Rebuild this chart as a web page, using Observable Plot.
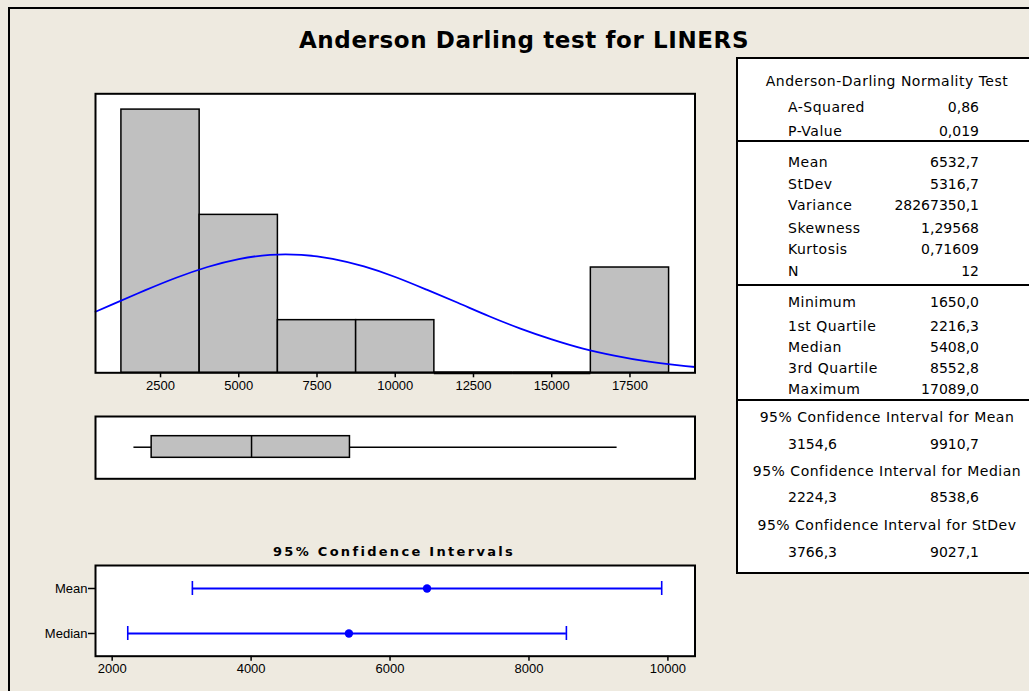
<!DOCTYPE html>
<html><head><meta charset="utf-8">
<script src="https://cdn.jsdelivr.net/npm/d3@7"></script>
<script src="https://cdn.jsdelivr.net/npm/@observablehq/plot@0.6"></script>
<style>
html,body{margin:0;padding:0;overflow:hidden;background:#EEEAE0;}
#root{position:relative;width:1029px;height:691px;background:#EEEAE0;overflow:hidden;}
.abs{position:absolute;white-space:nowrap;}
.t{font-family:"DejaVu Sans",sans-serif;font-size:14px;color:#000;line-height:17px;letter-spacing:0.5px;}
.n{font-family:"DejaVu Sans",sans-serif;font-size:14px;color:#000;line-height:17px;}
</style></head><body><div id="root"></div>
<script>
// ---------- data ----------
const chartTitle = "Anderson Darling test for LINERS";
const binStart = [1250, 3750, 6250, 8750, 11250, 13750, 16250];
const binEnd   = [3750, 6250, 8750, 11250, 13750, 16250, 18750];
const binCounts = [5, 3, 1, 1, 0, 0, 2];
const histTicks = [2500, 5000, 7500, 10000, 12500, 15000, 17500];
// fitted normal curve (count scale)
const curveX = [422, 1000, 2000, 3000, 4000, 5000, 6000, 7000, 8000, 9000, 10000, 11000, 12000, 13000, 14000, 15000, 16000, 17000, 18000, 19000, 19578];
const curveY = [1.16, 1.31, 1.565, 1.805, 2.01, 2.16, 2.24, 2.24, 2.165, 2.02, 1.82, 1.58, 1.33, 1.075, 0.84, 0.635, 0.46, 0.325, 0.22, 0.145, 0.11];
const adLabels = ["A-Squared", "P-Value"];
const adValues = ["0,86", "0,019"];
const momentLabels = ["Mean", "StDev", "Variance", "Skewness", "Kurtosis", "N"];
const momentValues = ["6532,7", "5316,7", "28267350,1", "1,29568", "0,71609", "12"];
const summaryLabels = ["Minimum", "1st Quartile", "Median", "3rd Quartile", "Maximum"];
const summaryValues = [1650.0, 2216.3, 5408.0, 8552.8, 17089.0];
const ciLabels = ["Mean", "Median"];
const ciCenter = [6532.7, 5408.0];
const ciLower = [3154.6, 2224.3];
const ciUpper = [9910.7, 8538.6];
const ciTicks = [2000, 4000, 6000, 8000, 10000];
const stdevCI = [3766.3, 9027.1];
const ciTitle = "95% Confidence Intervals";

// ---------- helpers ----------
const root = document.getElementById("root");
const fmt = (v, d) => v.toFixed(d).replace(".", ",");
function addText(txt, x, y, align, cls, extra) {
  const d = document.createElement("div");
  d.className = "abs " + (cls || "t");
  d.textContent = txt;
  d.style.left = x + "px";
  d.style.top = y + "px";
  const tx = align === "center" ? "-50%" : align === "right" ? "-100%" : "0";
  d.style.transform = `translate(${tx},-50%)`;
  if (extra) Object.assign(d.style, extra);
  root.appendChild(d);
  return d;
}
function place(svg, left, top) {
  svg.style.position = "absolute";
  svg.style.left = left + "px";
  svg.style.top = top + "px";
  svg.style.overflow = "visible";
  root.appendChild(svg);
}
const axisFont = {background: "transparent", fontFamily: "'Liberation Sans', Arial, sans-serif", fontSize: "13px", color: "black", overflow: "visible"};

// outer border
const ob = document.createElement("div");
ob.className = "abs";
Object.assign(ob.style, {left: "8px", top: "7px", width: "1100px", height: "800px", borderLeft: "2px solid #000", borderTop: "2px solid #000"});
root.appendChild(ob);

// title
addText(chartTitle, 524, 40, "center", "t", {fontWeight: "bold", fontSize: "23px", lineHeight: "28px", letterSpacing: "0.6px"});

// ---------- histogram ----------
const xDomain = [422, 19578];
const bins = binStart.map((s, i) => ({x1: s, x2: binEnd[i], count: binCounts[i]}));
const curve = curveX.map((x, i) => ({x, y: curveY[i]}));
const hist = Plot.plot({
  width: 720, height: 400,
  marginLeft: 95, marginRight: 25.5, marginTop: 93.3, marginBottom: 27.7,
  x: {domain: xDomain},
  y: {domain: [0, 5.3], axis: null},
  style: axisFont,
  marks: [
    Plot.frame({fill: "white"}),
    Plot.rect(bins, {x1: "x1", x2: "x2", y1: 0, y2: "count", fill: "#C0C0C0", stroke: "black", strokeWidth: 1.5}),
    Plot.ruleY(bins.filter(b => b.count === 0), {x1: "x1", x2: "x2", y: "count", stroke: "black", strokeWidth: 3}),
    Plot.line(curve, {x: "x", y: "y", stroke: "#0000FF", strokeWidth: 1.8, curve: "natural"}),
    Plot.frame({stroke: "black", strokeWidth: 2}),
    Plot.axisX({ticks: histTicks, tickSize: 5, tickPadding: 3, strokeWidth: 1.5, tickFormat: d => String(d)})
  ]
});
place(hist, 0, 0);

// ---------- boxplot ----------
const whiskers = [{x1: summaryValues[0], x2: summaryValues[1]}, {x1: summaryValues[3], x2: summaryValues[4]}];
const boxes = [{x1: summaryValues[1], x2: summaryValues[3], m: summaryValues[2]}];
const box = Plot.plot({
  width: 720, height: 90,
  marginLeft: 95, marginRight: 25.5, marginTop: 16, marginBottom: 11.7,
  x: {domain: xDomain, axis: null},
  y: {domain: [0, 1], axis: null},
  style: axisFont,
  marks: [
    Plot.frame({fill: "white"}),
    Plot.ruleY(whiskers, {x1: "x1", x2: "x2", y: () => 0.507, stroke: "black", strokeWidth: 1.5}),
    Plot.rect(boxes, {x1: "x1", x2: "x2", y1: () => 0.337, y2: () => 0.684, fill: "#C0C0C0", stroke: "black", strokeWidth: 1.5}),
    Plot.ruleX(boxes, {x: "m", y1: () => 0.337, y2: () => 0.684, stroke: "black", strokeWidth: 1.5}),
    Plot.frame({stroke: "black", strokeWidth: 2})
  ]
});
place(box, 0, 400);

// ---------- confidence intervals ----------
addText(ciTitle, 394, 551, "center", "t", {fontWeight: "bold", fontSize: "13px", letterSpacing: "2.3px"});
const ciData = ciLabels.map((l, i) => ({label: l, c: ciCenter[i], lo: ciLower[i], hi: ciUpper[i]}));
const ci = Plot.plot({
  width: 720, height: 151,
  marginLeft: 95, marginRight: 25.5, marginTop: 25, marginBottom: 35.3,
  x: {domain: [1760, 10390]},
  y: {type: "band", domain: ciLabels, paddingInner: 0.69, paddingOuter: 0.345},
  style: axisFont,
  marks: [
    Plot.frame({fill: "white"}),
    Plot.ruleY(ciData, {y: "label", x1: "lo", x2: "hi", stroke: "#0000FF", strokeWidth: 2}),
    Plot.tickX(ciData, {x: "lo", y: "label", stroke: "#0000FF", strokeWidth: 1.6}),
    Plot.tickX(ciData, {x: "hi", y: "label", stroke: "#0000FF", strokeWidth: 1.6}),
    Plot.dot(ciData, {x: "c", y: "label", r: 4.2, fill: "#0000FF", stroke: "none"}),
    Plot.frame({stroke: "black", strokeWidth: 2}),
    Plot.axisX({ticks: ciTicks, tickSize: 5, tickPadding: 3, strokeWidth: 1.5, tickFormat: d => String(d)}),
    Plot.axisY({tickSize: 7, tickPadding: 1, strokeWidth: 1.5, fontSize: 13, label: null})
  ]
});
place(ci, 0, 540);

// ---------- statistics table ----------
const tb = document.createElement("div");
tb.className = "abs";
Object.assign(tb.style, {left: "736px", top: "57px", width: "400px", height: "513px", background: "white", border: "2px solid #000"});
root.appendChild(tb);
[141, 285, 399.5].forEach(y => {
  const l = document.createElement("div");
  l.className = "abs";
  Object.assign(l.style, {left: "737px", top: (y - 1) + "px", width: "400px", height: "2px", background: "#000"});
  root.appendChild(l);
});
const LX = 788, RX = 979, CX = 887;
addText("Anderson-Darling Normality Test", CX, 80.7, "center");
const adY = [107.3, 130.7];
adLabels.forEach((l, i) => { addText(l, LX, adY[i], "left"); addText(adValues[i], RX, adY[i], "right", "n"); });
const momY = [162.3, 184, 205.3, 227.7, 249, 270.7];
momentLabels.forEach((l, i) => { addText(l, LX, momY[i], "left"); addText(momentValues[i], RX, momY[i], "right", "n"); });
const sumY = [302.3, 326, 346.7, 368.3, 389.3];
summaryLabels.forEach((l, i) => { addText(l, LX, sumY[i], "left"); addText(fmt(summaryValues[i], 1), RX, sumY[i], "right", "n"); });
addText("95% Confidence Interval for Mean", CX, 417.3, "center");
addText(fmt(ciLower[0], 1), LX, 444.3, "left", "n"); addText(fmt(ciUpper[0], 1), RX, 444.3, "right", "n");
addText("95% Confidence Interval for Median", CX, 470.5, "center");
addText(fmt(ciLower[1], 1), LX, 496.7, "left", "n"); addText(fmt(ciUpper[1], 1), RX, 496.7, "right", "n");
addText("95% Confidence Interval for StDev", CX, 525, "center");
addText(fmt(stdevCI[0], 1), LX, 551.7, "left", "n"); addText(fmt(stdevCI[1], 1), RX, 551.7, "right", "n");
</script></body></html>
